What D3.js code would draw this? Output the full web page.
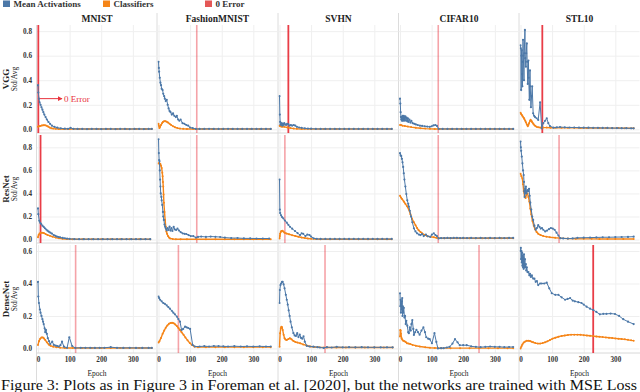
<!DOCTYPE html>
<html><head><meta charset="utf-8">
<script src="https://cdn.jsdelivr.net/npm/d3@7"></script>
<style>html,body{margin:0;padding:0;background:#fff}svg{display:block}</style>
</head><body>
<svg id="chart" width="640" height="392"></svg>
<script>
// ---------------- DATA ----------------
const models = ["VGG", "ResNet", "DenseNet"];
const datasets = ["MNIST", "FashionMNIST", "SVHN", "CIFAR10", "STL10"];
const seriesNames = ["Mean Activations", "Classifiers", "0 Error"];
const xTickValues = [0, 100, 200, 300];
const yTickValuesVGG = [0, 0.2, 0.4, 0.6, 0.8];
const yTickValuesResNet = [0, 0.2, 0.4, 0.6, 0.8];
const yTickValuesDenseNet = [0, 0.2, 0.4, 0.6];
const zeroErrorEpoch = [[1, 121, 28, 121, 69], [8, 121, 17, 121, 122], [119, 63, 144, 250, 230]];
const zeroErrorReached = [[1, 0, 1, 0, 1], [1, 0, 0, 0, 0], [0, 0, 0, 0, 1]];
const annotationText = "0 Error";
const captionText = "Figure 3: Plots as in Figure 3 in Foreman et al. [2020], but the networks are trained with MSE Loss";

// VGG
const vggMnistAct = [[0,0.36],[1,0.3],[3,0.25],[5,0.22],[8,0.2],[11,0.18],[14,0.16],[17,0.14],[20,0.12],[24,0.1],[28,0.08],[33,0.06],[38,0.045],[44,0.03],[52,0.02],[61,0.013],[72,0.008],[85,0.005],[95,0.004],[103,0.012],[112,0.004],[125,0.003],[140,0.003],[155,0.002],[170,0.003],[185,0.003],[200,0.002],[215,0.003],[230,0.003],[245,0.002],[260,0.003],[275,0.003],[290,0.002],[305,0.003],[320,0.003],[335,0.002],[350,0.003],[360,0.003]];
const vggMnistCls = [[0,0.02],[3,0.025],[7,0.028],[12,0.031],[17,0.033],[22,0.033],[27,0.03],[32,0.022],[37,0.014],[42,0.009],[48,0.006],[56,0.004],[66,0.003],[80,0.003],[100,0.002],[130,0.002],[160,0.002],[190,0.002],[220,0.002],[250,0.002],[280,0.002],[310,0.002],[340,0.002],[360,0.002]];
const vggFashionAct = [[0,0.55],[1,0.5],[2,0.47],[4,0.42],[6,0.38],[8,0.36],[10,0.33],[13,0.32],[15,0.29],[18,0.27],[20,0.25],[23,0.23],[26,0.24],[29,0.2],[32,0.17],[35,0.15],[38,0.14],[42,0.12],[46,0.13],[50,0.11],[55,0.1],[58,0.11],[62,0.08],[66,0.07],[70,0.08],[76,0.05],[82,0.045],[88,0.035],[94,0.03],[100,0.015],[108,0.01],[118,0.003],[130,0.003],[145,0.003],[160,0.004],[175,0.003],[190,0.003],[205,0.003],[220,0.004],[235,0.003],[250,0.003],[265,0.003],[280,0.003],[295,0.003],[310,0.003],[325,0.003],[340,0.003],[355,0.003]];
const vggFashionCls = [[0,0.045],[1,0.03],[3,0.01],[5,0.02],[8,0.035],[11,0.05],[14,0.06],[18,0.066],[22,0.066],[26,0.062],[30,0.055],[35,0.045],[40,0.035],[46,0.025],[52,0.017],[60,0.01],[68,0.006],[78,0.004],[90,0.003],[110,0.002],[140,0.002],[170,0.002],[200,0.002],[230,0.002],[260,0.002],[290,0.002],[320,0.002],[355,0.002]];
const vggSvhnAct = [[0,0.27],[1,0.12],[2,0.06],[3,0.04],[5,0.035],[7,0.05],[9,0.03],[11,0.045],[13,0.035],[15,0.05],[18,0.04],[21,0.035],[24,0.045],[28,0.04],[32,0.03],[36,0.035],[40,0.03],[45,0.035],[50,0.03],[55,0.02],[62,0.015],[70,0.012],[80,0.008],[90,0.006],[100,0.005],[115,0.003],[130,0.003],[145,0.003],[160,0.003],[175,0.003],[190,0.003],[205,0.003],[220,0.003],[235,0.003],[250,0.003],[265,0.003],[280,0.003],[295,0.003],[310,0.003],[325,0.003],[340,0.003],[355,0.003]];
const vggSvhnCls = [[0,0.03],[3,0.025],[8,0.02],[15,0.02],[25,0.015],[35,0.01],[45,0.006],[55,0.004],[70,0.003],[100,0.002],[140,0.002],[180,0.002],[220,0.002],[260,0.002],[300,0.002],[355,0.002]];
const vggCifarAct = [[0,0.25],[1,0.21],[2,0.14],[3,0.1],[4,0.08],[5,0.1],[6,0.07],[7,0.09],[8,0.11],[9,0.07],[10,0.1],[11,0.08],[12,0.11],[13,0.07],[14,0.1],[15,0.075],[17,0.105],[19,0.07],[21,0.095],[23,0.065],[25,0.09],[27,0.06],[30,0.08],[33,0.055],[36,0.07],[40,0.05],[45,0.045],[50,0.04],[56,0.035],[63,0.03],[70,0.028],[78,0.025],[86,0.022],[94,0.02],[100,0.025],[106,0.032],[112,0.035],[117,0.028],[122,0.004],[135,0.003],[150,0.003],[165,0.003],[180,0.003],[195,0.003],[210,0.003],[225,0.003],[240,0.003],[255,0.003],[270,0.003],[285,0.003],[300,0.003],[315,0.003],[330,0.003],[345,0.003],[358,0.003]];
const vggCifarCls = [[0,0.035],[3,0.035],[8,0.03],[15,0.027],[25,0.022],[35,0.018],[50,0.013],[65,0.009],[80,0.006],[95,0.004],[110,0.003],[125,0.002],[160,0.002],[200,0.002],[240,0.002],[280,0.002],[320,0.002],[358,0.002]];
const vggStlAct = [[0,0.685],[1,0.66],[2,0.32],[3,0.6],[4,0.645],[5,0.45],[6,0.35],[7,0.55],[8,0.73],[9,0.6],[11,0.4],[12,0.62],[14,0.81],[15,0.58],[17,0.51],[18,0.62],[20,0.7],[21,0.55],[23,0.37],[25,0.56],[26,0.42],[28,0.24],[30,0.48],[31,0.35],[33,0.18],[35,0.27],[37,0.35],[40,0.13],[43,0.11],[46,0.1],[51,0.09],[56,0.076],[62,0.22],[67,0.008],[72,0.05],[78,0.07],[83,0.09],[88,0.05],[93,0.027],[104,0.013],[115,0.016],[125,0.018],[140,0.016],[155,0.015],[170,0.015],[185,0.014],[200,0.013],[215,0.013],[230,0.012],[245,0.012],[260,0.011],[275,0.011],[290,0.01],[305,0.01],[320,0.009],[335,0.009],[350,0.008],[358,0.008]];
const vggStlCls = [[0,0.135],[2,0.125],[5,0.115],[7,0.105],[10,0.095],[12,0.085],[15,0.07],[17,0.058],[20,0.04],[23,0.025],[25,0.035],[27,0.05],[30,0.068],[32,0.077],[35,0.068],[37,0.058],[40,0.048],[42,0.04],[46,0.03],[51,0.02],[56,0.016],[62,0.015],[72,0.014],[83,0.014],[95,0.013],[110,0.013],[130,0.012],[150,0.012],[170,0.012],[190,0.011],[210,0.011],[230,0.011],[250,0.01],[270,0.01],[290,0.01],[310,0.01],[330,0.009],[358,0.009]];

// ResNet
const resMnistAct = [[0,0.27],[1,0.22],[4,0.163],[7,0.145],[10,0.135],[14,0.12],[18,0.11],[22,0.098],[26,0.087],[30,0.077],[34,0.068],[39,0.06],[44,0.052],[50,0.039],[55,0.032],[60,0.026],[65,0.022],[70,0.019],[78,0.014],[85,0.011],[92,0.008],[100,0.006],[115,0.004],[130,0.003],[145,0.003],[160,0.003],[175,0.003],[190,0.003],[205,0.003],[220,0.003],[235,0.003],[250,0.003],[265,0.003],[280,0.003],[295,0.003],[310,0.003],[325,0.003],[340,0.003],[355,0.003]];
const resMnistCls = [[0,0.02],[2,0.04],[5,0.052],[9,0.058],[13,0.06],[18,0.057],[24,0.048],[30,0.04],[38,0.032],[46,0.025],[56,0.017],[66,0.011],[78,0.006],[90,0.004],[110,0.003],[140,0.002],[170,0.002],[200,0.002],[230,0.002],[260,0.002],[290,0.002],[320,0.002],[355,0.002]];
const resFashionAct = [[0,0.87],[1,0.75],[2,0.69],[3,0.68],[4,0.6],[5,0.52],[6,0.46],[7,0.4],[9,0.37],[10,0.34],[12,0.3],[14,0.24],[15,0.2],[17,0.17],[19,0.13],[21,0.11],[23,0.095],[26,0.08],[29,0.1],[32,0.083],[35,0.113],[38,0.078],[41,0.1],[44,0.074],[48,0.11],[52,0.087],[56,0.083],[60,0.095],[65,0.078],[70,0.065],[76,0.054],[82,0.05],[88,0.048],[95,0.039],[102,0.03],[110,0.03],[118,0.017],[125,0.023],[135,0.026],[150,0.023],[165,0.026],[180,0.024],[195,0.022],[210,0.017],[230,0.013],[250,0.013],[270,0.01],[290,0.01],[310,0.009],[330,0.009],[350,0.009]];
const resFashionCls = [[0,0.66],[2,0.665],[4,0.66],[6,0.655],[8,0.64],[10,0.62],[12,0.58],[13,0.55],[14,0.5],[15,0.46],[16,0.39],[17,0.32],[19,0.24],[21,0.17],[23,0.11],[25,0.07],[27,0.05],[30,0.03],[33,0.018],[37,0.01],[45,0.005],[55,0.003],[70,0.003],[90,0.003],[120,0.003],[150,0.003],[180,0.003],[210,0.003],[240,0.003],[270,0.003],[300,0.003],[330,0.003],[355,0.003]];
const resSvhnAct = [[0,0.52],[1,0.26],[2,0.23],[5,0.21],[8,0.195],[12,0.184],[17,0.165],[23,0.146],[28,0.128],[33,0.111],[40,0.094],[49,0.074],[57,0.056],[65,0.039],[70,0.054],[75,0.05],[82,0.03],[88,0.043],[95,0.039],[100,0.026],[108,0.01],[118,0.006],[130,0.005],[145,0.005],[160,0.005],[175,0.005],[190,0.005],[205,0.005],[220,0.005],[235,0.005],[250,0.005],[265,0.005],[280,0.005],[295,0.005],[310,0.005],[325,0.005],[340,0.005],[355,0.005]];
const resSvhnCls = [[0,0.01],[1,0.03],[2,0.05],[4,0.065],[6,0.075],[9,0.077],[12,0.07],[16,0.06],[22,0.052],[30,0.046],[40,0.038],[50,0.031],[60,0.024],[70,0.018],[80,0.013],[90,0.009],[100,0.006],[115,0.004],[130,0.003],[160,0.003],[190,0.003],[220,0.003],[250,0.003],[280,0.003],[310,0.003],[340,0.003],[355,0.003]];
const resCifarAct = [[0,0.75],[2,0.73],[4,0.725],[6,0.7],[8,0.67],[10,0.63],[12,0.575],[14,0.52],[17,0.46],[20,0.395],[23,0.34],[26,0.31],[28,0.285],[31,0.25],[35,0.2],[39,0.15],[44,0.097],[49,0.07],[54,0.054],[60,0.043],[65,0.039],[70,0.048],[75,0.03],[82,0.043],[88,0.028],[96,0.024],[101,0.043],[107,0.054],[112,0.039],[117,0.03],[122,0.01],[130,0.013],[140,0.013],[150,0.014],[160,0.013],[170,0.014],[180,0.015],[190,0.013],[200,0.014],[212,0.013],[225,0.014],[240,0.013],[255,0.014],[270,0.013],[285,0.014],[300,0.013],[315,0.014],[330,0.013],[345,0.014],[358,0.014]];
const resCifarCls = [[0,0.38],[3,0.365],[7,0.35],[12,0.33],[17,0.31],[22,0.29],[28,0.26],[33,0.22],[38,0.18],[44,0.15],[49,0.125],[54,0.1],[59,0.08],[65,0.065],[70,0.054],[78,0.04],[86,0.03],[96,0.024],[107,0.02],[115,0.015],[122,0.012],[140,0.011],[160,0.011],[180,0.011],[200,0.011],[220,0.011],[240,0.011],[260,0.011],[280,0.011],[300,0.011],[320,0.011],[340,0.011],[358,0.011]];
const resStlAct = [[0,0.85],[1,0.8],[2,0.77],[4,0.72],[6,0.66],[8,0.6],[10,0.56],[11,0.5],[12,0.42],[13,0.37],[14,0.4],[15,0.44],[16,0.41],[17,0.46],[19,0.4],[21,0.42],[23,0.43],[25,0.42],[27,0.44],[29,0.38],[31,0.32],[34,0.26],[37,0.2],[40,0.17],[44,0.12],[48,0.085],[52,0.1],[56,0.125],[60,0.11],[64,0.095],[68,0.1],[72,0.085],[78,0.07],[84,0.078],[90,0.09],[96,0.1],[102,0.095],[108,0.085],[114,0.06],[120,0.035],[126,0.012],[135,0.01],[150,0.008],[165,0.01],[180,0.015],[200,0.016],[220,0.017],[240,0.018],[260,0.02],[280,0.02],[300,0.021],[320,0.022],[340,0.023],[358,0.025]];
const resStlCls = [[0,0.57],[3,0.55],[6,0.53],[8,0.48],[10,0.42],[13,0.38],[16,0.36],[19,0.39],[22,0.4],[25,0.37],[28,0.33],[31,0.27],[34,0.22],[38,0.16],[42,0.12],[46,0.09],[51,0.065],[56,0.05],[63,0.04],[72,0.03],[82,0.025],[93,0.02],[110,0.015],[125,0.012],[150,0.008],[175,0.007],[200,0.006],[225,0.006],[250,0.005],[275,0.005],[300,0.005],[325,0.005],[358,0.005]];

// DenseNet
const denMnistAct = [[0,0.41],[1,0.32],[3,0.28],[6,0.24],[8,0.22],[11,0.2],[14,0.18],[16,0.165],[18,0.15],[21,0.124],[23,0.1],[25,0.114],[28,0.09],[31,0.063],[35,0.045],[39,0.028],[45,0.042],[50,0.022],[56,0.018],[61,0.015],[66,0.012],[71,0.02],[76,0.042],[82,0.011],[92,0.004],[99,0.069],[108,0.015],[118,0.003],[135,0.004],[150,0.004],[165,0.004],[180,0.003],[195,0.004],[210,0.004],[230,0.008],[250,0.004],[270,0.003],[290,0.004],[310,0.003],[330,0.003],[350,0.003],[360,0.003]];
const denMnistCls = [[0,0.022],[3,0.045],[7,0.06],[11,0.068],[15,0.068],[19,0.062],[23,0.052],[28,0.038],[34,0.024],[40,0.016],[48,0.011],[58,0.008],[70,0.005],[85,0.003],[110,0.003],[140,0.003],[170,0.003],[200,0.003],[230,0.003],[260,0.003],[290,0.003],[320,0.003],[360,0.003]];
const denFashionAct = [[0,0.32],[2,0.31],[5,0.3],[10,0.29],[15,0.28],[20,0.275],[26,0.265],[31,0.255],[36,0.245],[42,0.232],[47,0.22],[52,0.21],[58,0.196],[63,0.18],[68,0.165],[73,0.114],[78,0.12],[84,0.134],[89,0.13],[94,0.126],[100,0.12],[108,0.022],[115,0.012],[130,0.012],[145,0.014],[160,0.012],[175,0.015],[190,0.014],[205,0.013],[220,0.012],[240,0.014],[260,0.012],[280,0.013],[300,0.012],[320,0.013],[340,0.012],[355,0.012]];
const denFashionCls = [[0,0.036],[3,0.045],[8,0.065],[13,0.09],[18,0.11],[23,0.128],[28,0.142],[33,0.152],[38,0.157],[43,0.158],[48,0.155],[53,0.148],[58,0.138],[63,0.126],[68,0.113],[73,0.1],[79,0.085],[85,0.068],[92,0.05],[99,0.034],[106,0.022],[113,0.012],[125,0.008],[150,0.008],[180,0.008],[210,0.008],[240,0.008],[270,0.008],[300,0.008],[330,0.008],[355,0.008]];
const denSvhnAct = [[0,0.28],[1,0.36],[3,0.39],[5,0.4],[8,0.41],[10,0.41],[13,0.395],[16,0.37],[20,0.33],[23,0.3],[26,0.27],[29,0.235],[32,0.2],[35,0.165],[39,0.13],[44,0.094],[48,0.08],[52,0.077],[56,0.094],[60,0.07],[64,0.085],[68,0.065],[72,0.06],[76,0.075],[80,0.042],[86,0.016],[95,0.012],[107,0.011],[120,0.008],[128,0.006],[140,0.003],[150,0.008],[165,0.006],[181,0.01],[200,0.007],[220,0.008],[240,0.007],[260,0.008],[280,0.007],[300,0.007],[320,0.007],[340,0.007],[358,0.007]];
const denSvhnCls = [[0,0.011],[2,0.094],[4,0.125],[6,0.134],[8,0.13],[10,0.114],[13,0.085],[16,0.063],[19,0.055],[23,0.052],[28,0.058],[33,0.063],[38,0.056],[44,0.046],[50,0.04],[57,0.036],[65,0.032],[75,0.025],[86,0.018],[98,0.012],[110,0.009],[125,0.007],[150,0.006],[180,0.006],[210,0.006],[240,0.006],[270,0.006],[300,0.006],[330,0.006],[358,0.006]];
const denCifarAct = [[0,0.34],[1,0.26],[2,0.3],[3,0.22],[4,0.28],[5,0.24],[6,0.29],[7,0.31],[8,0.2],[9,0.26],[10,0.22],[12,0.25],[14,0.19],[16,0.2],[18,0.15],[20,0.17],[23,0.14],[26,0.1],[28,0.094],[31,0.13],[34,0.11],[36,0.15],[39,0.175],[42,0.12],[44,0.083],[48,0.1],[52,0.114],[57,0.1],[62,0.085],[68,0.11],[74,0.13],[79,0.1],[83,0.069],[89,0.06],[94,0.057],[101,0.032],[109,0.094],[115,0.04],[120,0.0],[130,0.002],[138,0.002],[148,0.006],[157,0.01],[166,0.03],[174,0.057],[182,0.038],[189,0.02],[200,0.02],[211,0.02],[225,0.013],[240,0.01],[255,0.008],[270,0.01],[285,0.012],[300,0.01],[315,0.01],[330,0.008],[345,0.009],[358,0.009]];
const denCifarCls = [[0,0.073],[1,0.114],[2,0.11],[3,0.09],[5,0.063],[7,0.055],[10,0.048],[14,0.045],[18,0.04],[22,0.032],[27,0.03],[32,0.028],[40,0.022],[50,0.017],[63,0.012],[80,0.007],[95,0.004],[110,0.003],[130,0.002],[160,0.002],[190,0.002],[220,0.002],[250,0.002],[280,0.002],[310,0.002],[340,0.002],[358,0.002]];
const denStlAct = [[0,0.6],[1,0.62],[2,0.55],[3,0.6],[4,0.53],[5,0.59],[6,0.51],[7,0.57],[8,0.5],[9,0.56],[10,0.49],[11,0.58],[12,0.5],[14,0.55],[15,0.5],[17,0.52],[18,0.48],[20,0.5],[22,0.47],[25,0.47],[28,0.45],[30,0.46],[33,0.44],[36,0.45],[40,0.43],[44,0.43],[48,0.41],[52,0.415],[56,0.39],[62,0.4],[67,0.4],[75,0.4],[83,0.405],[91,0.37],[99,0.34],[110,0.33],[120,0.33],[130,0.315],[141,0.3],[149,0.305],[157,0.31],[165,0.295],[172,0.29],[183,0.285],[193,0.28],[200,0.27],[209,0.257],[220,0.245],[230,0.237],[240,0.225],[251,0.21],[262,0.213],[272,0.213],[285,0.215],[299,0.212],[312,0.2],[325,0.18],[340,0.165],[358,0.15]];
const denStlCls = [[0,0.0],[3,0.012],[6,0.025],[10,0.036],[15,0.043],[20,0.047],[25,0.048],[30,0.046],[35,0.042],[40,0.038],[47,0.033],[55,0.03],[62,0.03],[70,0.033],[78,0.038],[85,0.044],[93,0.052],[101,0.06],[110,0.066],[120,0.072],[130,0.077],[140,0.08],[150,0.083],[160,0.085],[170,0.085],[180,0.085],[190,0.084],[200,0.082],[210,0.08],[220,0.078],[230,0.076],[240,0.074],[250,0.072],[260,0.07],[270,0.068],[280,0.066],[290,0.064],[300,0.062],[310,0.06],[320,0.058],[330,0.056],[340,0.053],[350,0.05],[358,0.048]];

// table built from the named arrays: [row][col]
const activationSeries = [
  [vggMnistAct, vggFashionAct, vggSvhnAct, vggCifarAct, vggStlAct],
  [resMnistAct, resFashionAct, resSvhnAct, resCifarAct, resStlAct],
  [denMnistAct, denFashionAct, denSvhnAct, denCifarAct, denStlAct]
];
const classifierSeries = [
  [vggMnistCls, vggFashionCls, vggSvhnCls, vggCifarCls, vggStlCls],
  [resMnistCls, resFashionCls, resSvhnCls, resCifarCls, resStlCls],
  [denMnistCls, denFashionCls, denSvhnCls, denCifarCls, denStlCls]
];
const yTicksByRow = [yTickValuesVGG, yTickValuesResNet, yTickValuesDenseNet];

// ---------------- LAYOUT ----------------
const BLUE = "#4c78a8", ORANGE = "#f58518", RED = "#e8333d", RED_LEG = "#e45756";
const SERIF = "'Liberation Serif','Times New Roman',serif";
const colLeft = [36.5, 157, 278, 398.5, 519];
const colW = 121;
const rowTop = [25, 135, 245];
const rowH = 108;
const yDomains = [[-0.03, 0.85], [-0.03, 0.907], [-0.028, 0.637]];

const svg = d3.select("#chart");
const defs = svg.append("defs");
defs.append("marker").attr("id", "arrow").attr("viewBox", "0 0 10 10")
  .attr("refX", 9).attr("refY", 5).attr("markerWidth", 5).attr("markerHeight", 5)
  .attr("orient", "auto")
  .append("path").attr("d", "M0,0L10,5L0,10z").attr("fill", RED);

// legend
const legendItems = [
  {name: seriesNames[0], color: BLUE, x: 3},
  {name: seriesNames[1], color: ORANGE, x: 103},
  {name: seriesNames[2], color: RED_LEG, x: 205}
];
const lg = svg.append("g");
legendItems.forEach(d => {
  lg.append("rect").attr("x", d.x).attr("y", 0.5).attr("width", 7).attr("height", 6.5).attr("fill", d.color);
  lg.append("text").attr("x", d.x + 10.5).attr("y", 7.2).attr("font-family", SERIF)
    .attr("font-size", 9).attr("font-weight", "bold").attr("fill", "#333").text(d.name);
});

// column titles
datasets.forEach((name, c) => {
  svg.append("text").attr("x", colLeft[c] + colW / 2).attr("y", 21.7)
    .attr("text-anchor", "middle").attr("font-family", SERIF).attr("font-size", 9.5)
    .attr("font-weight", "bold").attr("fill", "#222").text(name);
});

// separators
colLeft.forEach((x, c) => {
  svg.append("line").attr("x1", x).attr("x2", x).attr("y1", c === 0 ? rowTop[0] : 13).attr("y2", 383)
    .attr("stroke", "#dcdcdc").attr("stroke-width", 1);
});

const line = (xs, ys) => d3.line().x(d => xs(d[0])).y(d => ys(d[1]));

models.forEach((model, r) => {
  const y0 = rowTop[r];
  const ys = d3.scaleLinear().domain(yDomains[r]).range([y0 + rowH, y0]);
  const yt = yTicksByRow[r];

  const cy = y0 + rowH / 2;
  svg.append("text").attr("transform", `translate(8.5,${cy}) rotate(-90)`)
    .attr("text-anchor", "middle").attr("font-family", SERIF).attr("font-size", 9)
    .attr("font-weight", "bold").attr("fill", "#222").text(model);
  svg.append("text").attr("transform", `translate(16.5,${cy}) rotate(-90)`)
    .attr("text-anchor", "middle").attr("font-family", SERIF).attr("font-size", 7.5)
    .attr("fill", "#222").text("Std/Avg");

  const yAxis = d3.axisLeft(ys).tickValues(yt).tickFormat(d3.format(".1f")).tickSize(0).tickPadding(0);
  const ya = svg.append("g").attr("transform", `translate(32,0)`).call(yAxis);
  ya.select(".domain").remove();
  ya.selectAll("text").attr("font-family", SERIF).attr("font-size", 7.2).attr("font-weight", "bold").attr("fill", "#333");

  datasets.forEach((ds, c) => {
    const x0 = colLeft[c];
    const xs = d3.scaleLinear().domain([0, 360]).range([x0 + 1.5, x0 + 1.5 + 113.8]);
    const g = svg.append("g");
    const clipId = `clip-${r}-${c}`;
    defs.append("clipPath").attr("id", clipId).append("rect")
      .attr("x", x0 + 0.5).attr("y", y0).attr("width", colW - 0.5).attr("height", rowH);

    const xg = d3.axisBottom(xs).tickValues(xTickValues).tickSize(rowH).tickFormat("");
    const xgG = g.append("g").attr("transform", `translate(0,${y0})`).call(xg);
    xgG.select(".domain").remove();
    xgG.selectAll("line").attr("stroke", "#efefef");
    const ygr = d3.axisRight(ys).tickValues(yt).tickSize(colW - 1).tickFormat("");
    const ygG = g.append("g").attr("transform", `translate(${x0 + 0.5},0)`).call(ygr);
    ygG.select(".domain").remove();
    ygG.selectAll("line").attr("stroke", "#efefef");

    g.append("line").attr("x1", x0).attr("x2", x0 + colW).attr("y1", y0 + rowH).attr("y2", y0 + rowH)
      .attr("stroke", "#d8d8d8");

    const ze = zeroErrorEpoch[r][c];
    g.append("line").attr("x1", xs(ze)).attr("x2", xs(ze)).attr("y1", y0).attr("y2", y0 + rowH)
      .attr("stroke", RED).attr("stroke-width", zeroErrorReached[r][c] ? 1.8 : 1.6)
      .attr("stroke-opacity", zeroErrorReached[r][c] ? 0.95 : 0.45);

    const dg = g.append("g").attr("clip-path", `url(#${clipId})`);
    [[classifierSeries[r][c], ORANGE, 1.4, 1.0], [activationSeries[r][c], BLUE, 1.0, 1.1]].forEach(([data, col, w, rad]) => {
      dg.append("path").datum(data).attr("d", line(xs, ys)).attr("fill", "none")
        .attr("stroke", col).attr("stroke-width", w).attr("stroke-linejoin", "round");
      dg.selectAll(null).data(data).enter().append("circle")
        .attr("cx", d => xs(d[0])).attr("cy", d => ys(d[1])).attr("r", rad).attr("fill", col);
    });

    if (r === 0 && c === 0) {
      const ay = ys(0.25);
      g.append("line").attr("x1", xs(ze) + 1.5).attr("x2", xs(76)).attr("y1", ay).attr("y2", ay)
        .attr("stroke", RED).attr("stroke-width", 1).attr("marker-end", "url(#arrow)");
      g.append("text").attr("x", xs(82)).attr("y", ay + 3).attr("font-family", SERIF)
        .attr("font-size", 9).attr("fill", RED).text(annotationText);
    }

    if (r === models.length - 1) {
      const xa = d3.axisBottom(xs).tickValues(xTickValues).tickSize(0).tickPadding(0).tickFormat(d3.format("d"));
      const xaG = svg.append("g").attr("transform", `translate(0,${y0 + rowH + 4})`).call(xa);
      xaG.select(".domain").remove();
      xaG.selectAll("text").attr("font-family", SERIF).attr("font-size", 7.2).attr("font-weight", "bold").attr("fill", "#333");
      svg.append("text").attr("x", x0 + colW / 2).attr("y", 376).attr("text-anchor", "middle")
        .attr("font-family", SERIF).attr("font-size", 7.5).attr("fill", "#222").text("Epoch");
    }
  });
});

// caption, fitted to the width
svg.append("text").attr("x", 1).attr("y", 389.5).attr("font-family", SERIF).attr("font-size", 14)
  .attr("textLength", 636).attr("lengthAdjust", "spacingAndGlyphs")
  .attr("fill", "#111").text(captionText);
</script>
</body></html>
